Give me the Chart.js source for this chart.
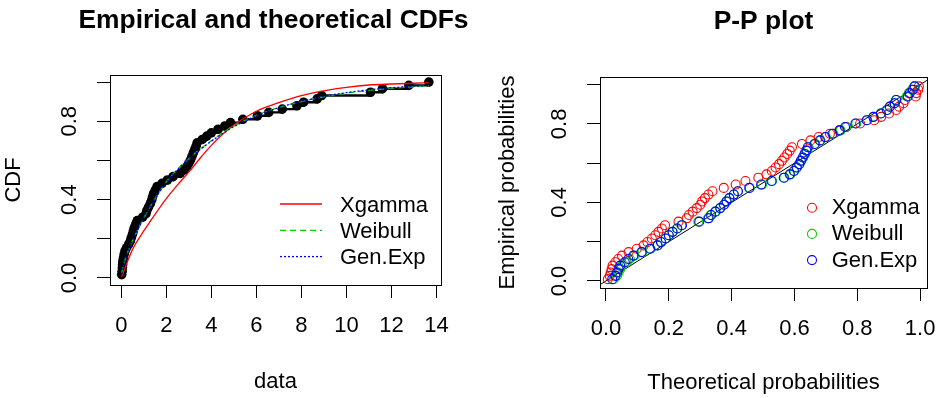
<!DOCTYPE html>
<html><head><meta charset="utf-8">
<script src="https://cdn.jsdelivr.net/npm/chart.js@4.4.1/dist/chart.umd.min.js"></script>
<style>
html,body{margin:0;padding:0;background:#fff;}
#wrap{position:relative;width:937px;height:398px;overflow:hidden;background:#fff;}
#c1{position:absolute;left:0;top:0;z-index:1;}
#c2{position:absolute;left:468px;top:0;z-index:2;}
</style></head><body>
<div id="wrap"><canvas id="c1" width="500" height="398"></canvas><canvas id="c2" width="469" height="398"></canvas></div>
<script>
// ---------- data ----------
const sampleData = [0.02,0.04,0.05,0.06,0.07,0.10,0.13,0.17,0.24,0.33,0.41,0.45,0.50,0.54,0.59,0.65,0.71,0.95,1.10,1.14,1.21,1.29,1.35,1.39,1.44,1.51,1.59,1.81,2.05,2.30,2.62,2.80,2.92,3.00,3.08,3.14,3.20,3.26,3.32,3.37,3.60,3.80,4.00,4.30,4.60,4.85,5.40,6.05,6.55,7.15,7.80,8.10,8.70,8.90,11.07,11.60,12.77,13.66];
const ecdfProb = [0.017,0.034,0.052,0.069,0.086,0.103,0.121,0.138,0.155,0.172,0.190,0.207,0.224,0.241,0.259,0.276,0.293,0.310,0.328,0.345,0.362,0.379,0.397,0.414,0.431,0.448,0.466,0.483,0.500,0.517,0.534,0.552,0.569,0.586,0.603,0.621,0.638,0.655,0.672,0.690,0.707,0.724,0.741,0.759,0.776,0.793,0.810,0.828,0.845,0.862,0.879,0.897,0.914,0.931,0.948,0.966,0.983,1.000];

const curveGrid  = [0.02,0.1,0.25,0.5,0.75,1,1.5,2,2.5,3,3.5,4,4.5,5,6,7,8,9,10,11,12,13,13.66];
const cdfXgamma  = [0.006,0.03,0.075,0.146,0.196,0.24,0.325,0.405,0.475,0.54,0.611,0.677,0.734,0.78,0.851,0.895,0.931,0.955,0.973,0.985,0.99,0.994,0.996];
const cdfWeibull = [0.025,0.065,0.12,0.19,0.25,0.305,0.405,0.49,0.555,0.608,0.658,0.70,0.74,0.775,0.83,0.87,0.90,0.925,0.943,0.957,0.968,0.976,0.981];
const cdfGenExp  = [0.02,0.06,0.117,0.19,0.252,0.308,0.405,0.487,0.553,0.607,0.655,0.698,0.737,0.772,0.828,0.87,0.901,0.927,0.946,0.96,0.971,0.979,0.983];

const empProb   = [0.009,0.026,0.043,0.060,0.078,0.095,0.112,0.129,0.147,0.164,0.181,0.198,0.216,0.233,0.250,0.267,0.284,0.302,0.319,0.336,0.353,0.371,0.388,0.405,0.422,0.440,0.457,0.474,0.491,0.509,0.526,0.543,0.560,0.578,0.595,0.612,0.629,0.647,0.664,0.681,0.698,0.716,0.733,0.750,0.767,0.784,0.802,0.819,0.836,0.853,0.871,0.888,0.905,0.922,0.940,0.957,0.974,0.991];
const ppXgamma  = [0.006,0.012,0.015,0.018,0.021,0.030,0.039,0.051,0.072,0.098,0.120,0.132,0.146,0.157,0.167,0.178,0.188,0.231,0.257,0.264,0.276,0.289,0.300,0.306,0.315,0.326,0.339,0.375,0.413,0.444,0.485,0.511,0.528,0.540,0.551,0.560,0.568,0.577,0.585,0.592,0.624,0.651,0.677,0.713,0.743,0.766,0.809,0.854,0.876,0.901,0.924,0.933,0.947,0.952,0.986,0.988,0.994,0.996];
const ppWeibull = [0.025,0.035,0.040,0.045,0.050,0.065,0.076,0.091,0.116,0.142,0.165,0.176,0.190,0.200,0.212,0.226,0.240,0.294,0.325,0.333,0.347,0.363,0.375,0.383,0.393,0.407,0.420,0.458,0.497,0.529,0.568,0.587,0.600,0.608,0.616,0.622,0.628,0.634,0.640,0.645,0.666,0.683,0.700,0.724,0.747,0.765,0.797,0.832,0.852,0.875,0.894,0.903,0.918,0.923,0.958,0.964,0.974,0.981];
const ppGenExp  = [0.020,0.030,0.035,0.040,0.045,0.060,0.071,0.087,0.113,0.140,0.164,0.175,0.190,0.200,0.212,0.227,0.242,0.297,0.327,0.335,0.349,0.364,0.376,0.384,0.393,0.407,0.420,0.456,0.494,0.527,0.566,0.585,0.598,0.607,0.615,0.620,0.626,0.632,0.638,0.642,0.664,0.681,0.698,0.721,0.744,0.761,0.794,0.830,0.851,0.875,0.895,0.904,0.919,0.924,0.961,0.967,0.977,0.983];
const diagLine  = [-0.1, 1.1];

const seriesNames = ['Xgamma','Weibull','Gen.Exp'];
const seriesColors = ['#FF0000','#00CD00','#0000FF'];

const xTicksCdf = [0,2,4,6,8,10,12,14];
const xTickLabelsCdf = ['0','2','4','6','8','10','12','14'];
const yTicks = [0,0.2,0.4,0.6,0.8,1.0];
const yTickLabels = ['0.0','','0.4','','0.8',''];
const xTicksPP = [0,0.2,0.4,0.6,0.8,1.0];
const xTickLabelsPP = ['0.0','0.2','0.4','0.6','0.8','1.0'];

const titleCdf = 'Empirical and theoretical CDFs';
const titlePP = 'P-P plot';

// ---------- helpers ----------
const FONT = '"Liberation Sans", Arial, Helvetica, sans-serif';
Chart.defaults.font.family = FONT;
Chart.defaults.color = '#000';
const tickFont = {size: 22, family: FONT};

const pts = (xs, ys) => xs.map((x, i) => ({x: x, y: ys[i]}));

const boxPlugin = {
  id: 'box',
  afterDatasetsDraw(chart) {
    const {ctx, chartArea: a} = chart;
    ctx.save();
    ctx.strokeStyle = '#000'; ctx.lineWidth = 1;
    ctx.strokeRect(Math.round(a.left) + 0.5, Math.round(a.top) + 0.5, Math.round(a.right - a.left), Math.round(a.bottom - a.top));
    ctx.restore();
  }
};
const titlePlugin = {
  id: 'mainTitle',
  afterDraw(chart, args, opts) {
    const {ctx, chartArea: a} = chart;
    ctx.save();
    ctx.font = 'bold 26.4px ' + FONT;
    ctx.fillStyle = '#000'; ctx.textAlign = 'center'; ctx.textBaseline = 'middle';
    ctx.fillText(opts.text, (a.left + a.right) / 2 + (opts.dx || 0), opts.y);
    ctx.restore();
  }
};
const legendPlugin = {
  id: 'rLegend',
  afterDraw(chart, args, opts) {
    const {ctx} = chart;
    ctx.save();
    ctx.font = '22px ' + FONT; ctx.textBaseline = 'middle'; ctx.textAlign = 'left';
    opts.items.forEach((idx, k) => {
      const ds = chart.data.datasets[idx];
      const y = opts.y0 + k * opts.dy;
      ctx.strokeStyle = ds.borderColor;
      if (opts.kind === 'line') {
        ctx.lineWidth = ds.borderWidth; ctx.setLineDash(ds.borderDash || []);
        ctx.beginPath(); ctx.moveTo(opts.x1, y); ctx.lineTo(opts.x2, y); ctx.stroke();
        ctx.setLineDash([]);
      } else {
        ctx.lineWidth = ds.pointBorderWidth;
        ctx.beginPath(); ctx.arc(opts.cx, y, ds.pointRadius, 0, Math.PI * 2); ctx.stroke();
      }
      ctx.fillStyle = '#000';
      ctx.fillText(ds.label, opts.tx, y + opts.tdy);
    });
    ctx.restore();
  }
};

function xScale(min, max, ticks, labels, title, height, titlePadB) {
  return {
    type: 'linear', min: min, max: max, bounds: 'data',
    afterBuildTicks: s => { s.ticks = ticks.map(v => ({value: v})); },
    afterFit: s => { s.height = height; s.paddingLeft = 0; s.paddingRight = 0; s.paddingTop = 0; s.paddingBottom = 0; },
    ticks: {autoSkip: false, maxRotation: 0, minRotation: 0, font: tickFont, color: '#000', padding: 15,
            callback: (v, i) => labels[i]},
    grid: {drawOnChartArea: false, drawTicks: true, tickLength: 13, color: '#000', lineWidth: 1},
    border: {display: false},
    title: {display: true, text: title, font: tickFont, color: '#000', padding: {top: 0, bottom: titlePadB}}
  };
}
function yScale(min, max, title, width, titlePadT) {
  return {
    type: 'linear', min: min, max: max, bounds: 'data',
    afterBuildTicks: s => { s.ticks = yTicks.map(v => ({value: v})); },
    afterFit: s => { s.width = width; s.paddingLeft = 0; s.paddingRight = 0; s.paddingTop = 0; s.paddingBottom = 0; },
    ticks: {autoSkip: false, minRotation: 90, maxRotation: 90, crossAlign: 'center', font: tickFont, color: '#000', padding: 12,
            callback: (v, i) => yTickLabels[i]},
    grid: {drawOnChartArea: false, drawTicks: true, tickLength: 13, color: '#000', lineWidth: 1},
    border: {display: false},
    title: {display: true, text: title, font: tickFont, color: '#000', padding: {top: titlePadT, bottom: 0}}
  };
}

// ---------- left: CDFs ----------
const dashes = [[], [6, 4], [2, 2]];
const cdfSeries = [cdfXgamma, cdfWeibull, cdfGenExp];
const leftDatasets = cdfSeries.map((ys, k) => ({
  label: seriesNames[k], data: pts(curveGrid, ys), borderColor: seriesColors[k], backgroundColor: seriesColors[k],
  borderWidth: 1.3, borderDash: dashes[k], pointRadius: 0, cubicInterpolationMode: 'monotone', fill: false, order: 3 - k
}));
leftDatasets.push({
  label: 'ECDF', data: pts(sampleData, ecdfProb), borderColor: '#000', backgroundColor: '#000',
  borderWidth: 2.4, stepped: true, pointRadius: 4.8, pointBorderWidth: 0, pointBackgroundColor: '#000', fill: false, order: 5
});

new Chart(document.getElementById('c1'), {
  type: 'line',
  data: {datasets: leftDatasets},
  plugins: [boxPlugin, titlePlugin, legendPlugin],
  options: {
    responsive: false, animation: false, devicePixelRatio: 1,
    layout: {padding: {left: 0, right: 59, top: 75, bottom: 0}},
    scales: {
      x: xScale(-0.5, 14.2, xTicksCdf, xTickLabelsCdf, 'data', 113, 3),
      y: yScale(-0.036, 1.036, 'CDF', 110, 1)
    },
    plugins: {
      legend: {display: false}, tooltip: {enabled: false},
      mainTitle: {text: titleCdf, y: 21, dx: -2},
      rLegend: {kind: 'line', items: [0, 1, 2], x1: 280, x2: 322, y0: 204, dy: 26.3, tx: 340, tdy: 1.5}
    }
  }
});

// ---------- right: P-P ----------
const ppSeries = [ppXgamma, ppWeibull, ppGenExp];
const rightDatasets = ppSeries.map((xs, k) => ({
  label: seriesNames[k], data: pts(xs, empProb), borderColor: seriesColors[k], backgroundColor: 'rgba(0,0,0,0)',
  showLine: false, pointRadius: 4.5, pointBorderWidth: 1.1, pointBorderColor: seriesColors[k],
  pointBackgroundColor: 'rgba(0,0,0,0)', order: 3 - k
}));
rightDatasets.push({
  label: 'y=x', data: pts(diagLine, diagLine), borderColor: '#000', borderWidth: 1, pointRadius: 0, fill: false, order: 5
});

new Chart(document.getElementById('c2'), {
  type: 'line',
  data: {datasets: rightDatasets},
  plugins: [boxPlugin, titlePlugin, legendPlugin],
  options: {
    responsive: false, animation: false, devicePixelRatio: 1,
    layout: {padding: {left: 0, right: 10, top: 77, bottom: 0}},
    scales: {
      x: xScale(-0.019, 1.022, xTicksPP, xTickLabelsPP, 'Theoretical probabilities', 110, 2),
      y: yScale(-0.036, 1.039, 'Empirical probabilities', 132, 27)
    },
    plugins: {
      legend: {display: false}, tooltip: {enabled: false},
      mainTitle: {text: titlePP, y: 22},
      rLegend: {kind: 'point', items: [0, 1, 2], cx: 344, y0: 207.7, dy: 26.2, tx: 363.7, tdy: 0.5}
    }
  }
});
</script>
</body></html>
